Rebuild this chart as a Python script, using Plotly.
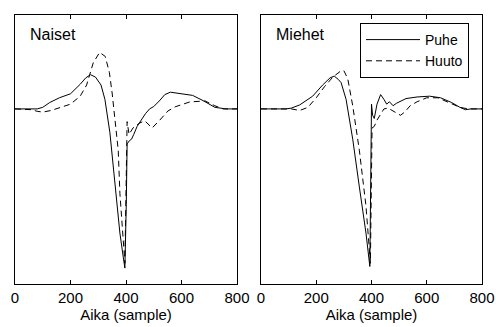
import plotly.graph_objects as go

# Naiset (women)
naiset_puhe_x = [0, 50, 80, 100, 125, 160, 200, 235, 255, 272, 290, 310, 324, 342, 360, 378, 390, 396, 401, 404, 412, 420, 428, 440, 455, 470, 485, 500, 520, 540, 560, 600, 640, 680, 720, 760, 800]
naiset_puhe_y = [0, 0, 0, 0.01, 0.04, 0.07, 0.095, 0.155, 0.195, 0.215, 0.2, 0.15, 0.06, -0.15, -0.47, -0.78, -0.93, -1.0, -0.6, -0.22, -0.2, -0.19, -0.16, -0.11, -0.07, -0.03, 0.0, 0.015, 0.05, 0.09, 0.105, 0.095, 0.085, 0.05, 0.01, 0, 0]
naiset_huuto_x = [0, 60, 80, 100, 130, 160, 200, 235, 258, 282, 305, 325, 340, 350, 360, 372, 378, 388, 396, 404, 411, 425, 450, 468, 494, 522, 551, 577, 630, 685, 720, 750, 800]
naiset_huuto_y = [0, -0.005, -0.015, -0.02, -0.01, 0.008, 0.03, 0.08, 0.15, 0.29, 0.355, 0.33, 0.23, 0.1, -0.05, -0.26, -0.53, -0.78, -0.97, -0.08, -0.16, -0.12, -0.088, -0.075, -0.12, -0.07, -0.013, 0.013, 0.044, 0.05, 0.02, 0, 0]

# Miehet (men)
miehet_puhe_x = [0, 90, 110, 140, 187, 223, 250, 265, 280, 290, 308, 332, 356, 380, 394, 400, 404, 410, 420, 433, 445, 455, 465, 478, 490, 505, 525, 565, 610, 650, 690, 720, 740, 760, 800]
miehet_puhe_y = [0, 0, 0.005, 0.025, 0.08, 0.15, 0.195, 0.206, 0.185, 0.165, 0.06, -0.19, -0.49, -0.78, -0.99, 0.03, -0.04, -0.06, 0.03, 0.09, 0.06, 0.03, 0.045, 0.02, 0.035, 0.05, 0.065, 0.075, 0.08, 0.07, 0.04, 0.01, -0.005, 0, 0]
miehet_huuto_x = [0, 110, 140, 170, 200, 230, 260, 290, 300, 314, 332, 356, 380, 396, 402, 410, 420, 434, 445, 460, 475, 490, 505, 520, 540, 565, 600, 640, 680, 720, 750, 800]
miehet_huuto_y = [0, 0, -0.01, 0.01, 0.07, 0.14, 0.2, 0.24, 0.24, 0.19, 0.02, -0.26, -0.61, -0.97, -0.12, -0.11, -0.07, -0.035, 0.0, 0.005, -0.01, -0.03, -0.04, -0.02, 0.02, 0.045, 0.07, 0.07, 0.04, 0.01, 0, 0]

x_ticks = [0, 200, 400, 600, 800]
x_label = "Aika (sample)"
titles = ["Naiset", "Miehet"]
series_names = ["Puhe", "Huuto"]

FONT = "Liberation Sans, Arial, Helvetica, sans-serif"

# body margin is removed by the post script, so the figure fills the window
W, H = 496, 327


def px(x):
    return x / W


def py(y):
    return (H - y) / H


fig = go.Figure()

solid = dict(color="black", width=1)
dashed = dict(color="black", width=1, dash="6px,4px")

fig.add_trace(go.Scatter(x=naiset_puhe_x, y=naiset_puhe_y, mode="lines", line=solid,
                         xaxis="x", yaxis="y", showlegend=False, name=series_names[0]))
fig.add_trace(go.Scatter(x=naiset_huuto_x, y=naiset_huuto_y, mode="lines", line=dashed,
                         xaxis="x", yaxis="y", showlegend=False, name=series_names[1]))
fig.add_trace(go.Scatter(x=miehet_puhe_x, y=miehet_puhe_y, mode="lines", line=solid,
                         xaxis="x2", yaxis="y2", name=series_names[0]))
fig.add_trace(go.Scatter(x=miehet_huuto_x, y=miehet_huuto_y, mode="lines", line=dashed,
                         xaxis="x2", yaxis="y2", name=series_names[1]))

xcommon = dict(range=[0, 800], tickvals=x_ticks, ticktext=[str(t) for t in x_ticks],
               ticks="inside", ticklen=4, tickcolor="black", showline=True, linecolor="black",
               linewidth=1, mirror="ticks", showgrid=False, zeroline=False, automargin=False,
               tickfont=dict(size=15, color="black", family=FONT),
               title=dict(text=x_label, font=dict(size=15, color="black", family=FONT), standoff=0))
ycommon = dict(range=[-1.10, 0.59], showticklabels=False, ticks="", showline=True,
               linecolor="black", linewidth=1, mirror=True, showgrid=False, zeroline=False,
               automargin=False)

ydom = [py(284), py(15)]
fig.update_layout(
    width=W, height=H,
    margin=dict(l=0, r=0, t=0, b=0, autoexpand=False),
    paper_bgcolor="white", plot_bgcolor="white",
    xaxis=dict(domain=[px(15), px(237)], anchor="y", **xcommon),
    yaxis=dict(domain=ydom, anchor="x", **ycommon),
    xaxis2=dict(domain=[px(261), px(482)], anchor="y2", **xcommon),
    yaxis2=dict(domain=ydom, anchor="x2", **ycommon),
    legend=dict(x=px(360), y=py(23), xanchor="left", yanchor="top",
                bordercolor="black", borderwidth=1, bgcolor="white",
                font=dict(size=14, color="black", family=FONT),
                itemwidth=54, tracegroupgap=0),
    annotations=[
        dict(text=titles[0], xref="paper", yref="paper", x=px(28), y=py(35),
             xanchor="left", yanchor="middle", showarrow=False,
             font=dict(size=16, color="black", family=FONT)),
        dict(text=titles[1], xref="paper", yref="paper", x=px(274), y=py(35),
             xanchor="left", yanchor="middle", showarrow=False,
             font=dict(size=16, color="black", family=FONT)),
    ],
)

fig.write_html("out.html", config={"displayModeBar": False},
               post_script="document.body.style.margin='0';document.body.style.overflow='hidden';")
